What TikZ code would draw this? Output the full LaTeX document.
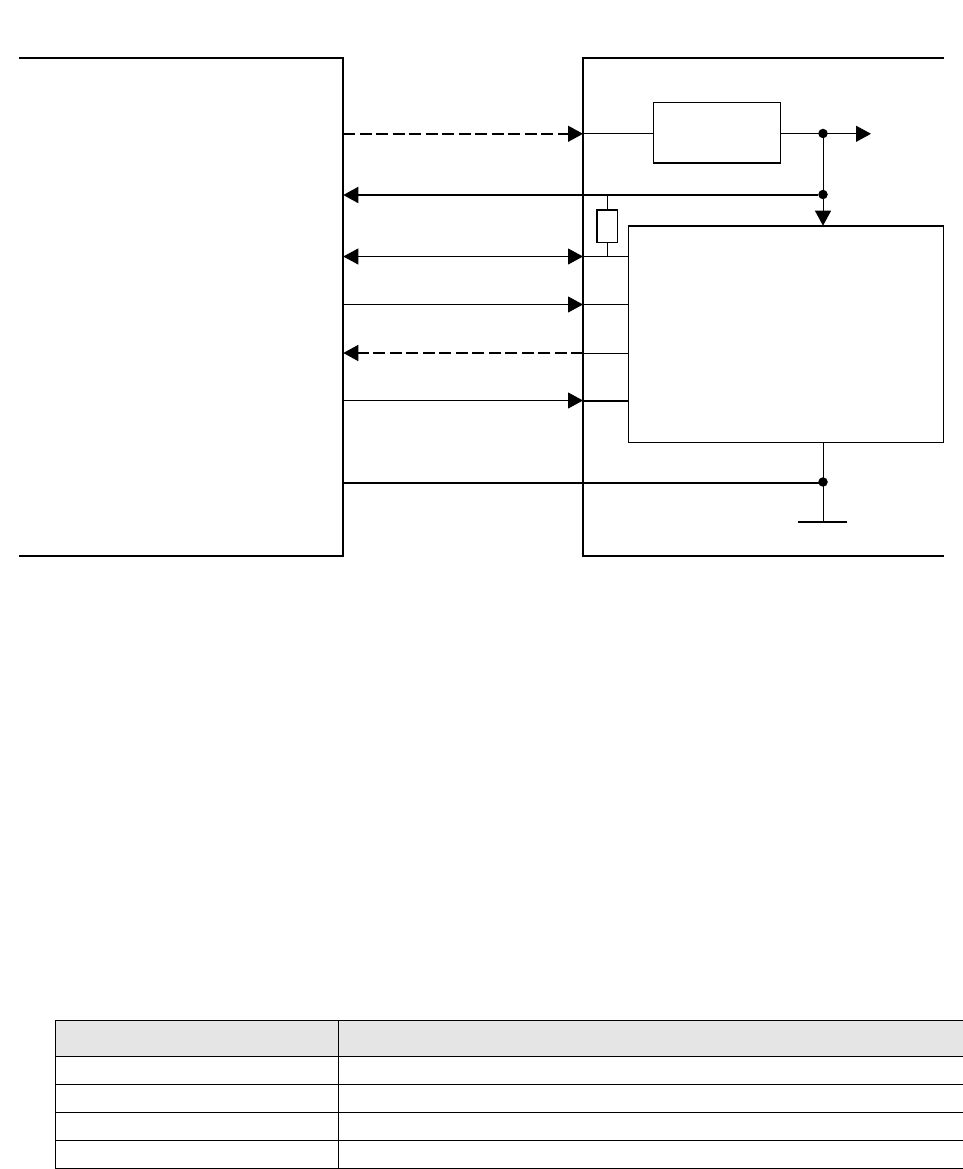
\documentclass[tikz,border=0pt]{standalone}
\usetikzlibrary{arrows.meta}

\tikzset{
  thickwire/.style={line width=2pt},
  thinwire/.style={line width=1pt},
  blockline/.style={line width=1.5pt},
  dashwire/.style={line width=1.5pt, dash pattern=on 12pt off 4.5pt},
  tip/.style={-{Triangle[length=15pt,width=16pt]}},
  tipboth/.style={{Triangle[length=15pt,width=16pt]}-{Triangle[length=15pt,width=16pt]}},
  dot/.style={circle,fill=black,inner sep=0pt,minimum size=9.5pt},
  block/.style={draw,rectangle,inner sep=0pt},
  cellhead/.style={draw,line width=0.85pt,fill=black!10,inner sep=0pt},
  cellbody/.style={draw,line width=0.85pt,inner sep=0pt}
}

\begin{document}
\begin{tikzpicture}[x=1pt, y=-1pt, line join=miter]

  %% outlines of the two units
  \draw[thickwire] (19,58) -- (343.3,58) -- (343.3,556) -- (19,556);
  \draw[thickwire] (944,58) -- (583,58) -- (583,556) -- (944,556);

  %% blocks
  \node[block,blockline,minimum width=127pt,minimum height=60.5pt] (reg) at (717,132.8) {};
  \node[block,thinwire,minimum width=315.5pt,minimum height=216pt] (chip) at (786,334.2) {};
  \draw[thickwire] (chip.north west) -- (chip.north east);
  \node[block,blockline,minimum width=20.5pt,minimum height=32.5pt] (res) at (607.2,226) {};

  %% junctions
  \node[dot] (jout) at (823,133.5) {};
  \node[dot] (jvcc) at (823,194.5) {};
  \node[dot] (jgnd) at (823,482) {};

  %% free ends
  \coordinate (lin) at (343.3,133.8);
  \coordinate (rin) at (583,133.8);
  \coordinate (lvcc) at (343.3,195);
  \coordinate (lio) at (343.3,256.5);
  \coordinate (rio) at (583,256.5);
  \coordinate (lclk) at (343.3,304.5);
  \coordinate (rclk) at (583,304.5);
  \coordinate (lout) at (343.3,353);
  \coordinate (rout) at (583,353);
  \coordinate (lrst) at (343.3,400.5);
  \coordinate (rrst) at (583,400.5);
  \coordinate (lgnd) at (343.3,482.8);
  \coordinate (outend) at (871,133.8);
  \coordinate (gndtop) at (823,522);
  \coordinate (gndl) at (798,522);
  \coordinate (gndr) at (847,522);
  \coordinate (resbus) at (607.2,195);
  \coordinate (resio) at (607.2,256.5);

  %% signals between the units
  \draw[dashwire,tip] (lin) -- (rin);
  \draw[thickwire,tip] (jvcc.west |- lvcc) -- (lvcc);
  \draw[thinwire,tipboth] (lio) -- (rio);
  \draw[thinwire,tip] (lclk) -- (rclk);
  \draw[dashwire,tip] (rout) -- (lout);
  \draw[thinwire,tip] (lrst) -- (rrst);
  \draw[thickwire] (lgnd) -- (jgnd.center |- lgnd);

  %% wiring inside the right unit
  \draw[thinwire] (rin) -- (reg.west |- rin);
  \draw[thinwire] (reg.east |- outend) -- (jout.center |- outend);
  \draw[thinwire,tip] (jout.center |- outend) -- (outend);
  \draw[thinwire] (jout) -- (jvcc);
  \draw[thinwire,tip] (jvcc) -- (jvcc |- chip.north);
  \draw[thinwire] (resbus) -- (res.north);
  \draw[thinwire] (res.south) -- (resio);
  \draw[thinwire] (rio) -- (chip.west |- rio);
  \draw[thinwire] (rclk) -- (chip.west |- rclk);
  \draw[thinwire,yshift=0.5pt] (rout) -- (chip.west |- rout);
  \draw[thickwire] (rrst) -- (chip.west |- rrst);
  \draw[thinwire] (jgnd |- chip.south) -- (gndtop);
  \draw[line width=2pt] (gndl) -- (gndr);

  %% table
  \node[cellhead,minimum width=283pt,minimum height=36pt] (h1) at (196.5,1038.5) {};
  \node[cellhead,minimum width=625pt,minimum height=36pt] (h2) at (650.5,1038.5) {};
  \foreach \y [count=\r] in {1070.5,1098.5,1126.5,1154.5} {
    \node[cellbody,minimum width=283pt,minimum height=28pt] (a\r) at (196.5,\y) {};
    \node[cellbody,minimum width=625pt,minimum height=28pt] (b\r) at (650.5,\y) {};
  }

  \pgfresetboundingbox
  \path[use as bounding box] (0,0) rectangle (963,1169);
\end{tikzpicture}
\end{document}
